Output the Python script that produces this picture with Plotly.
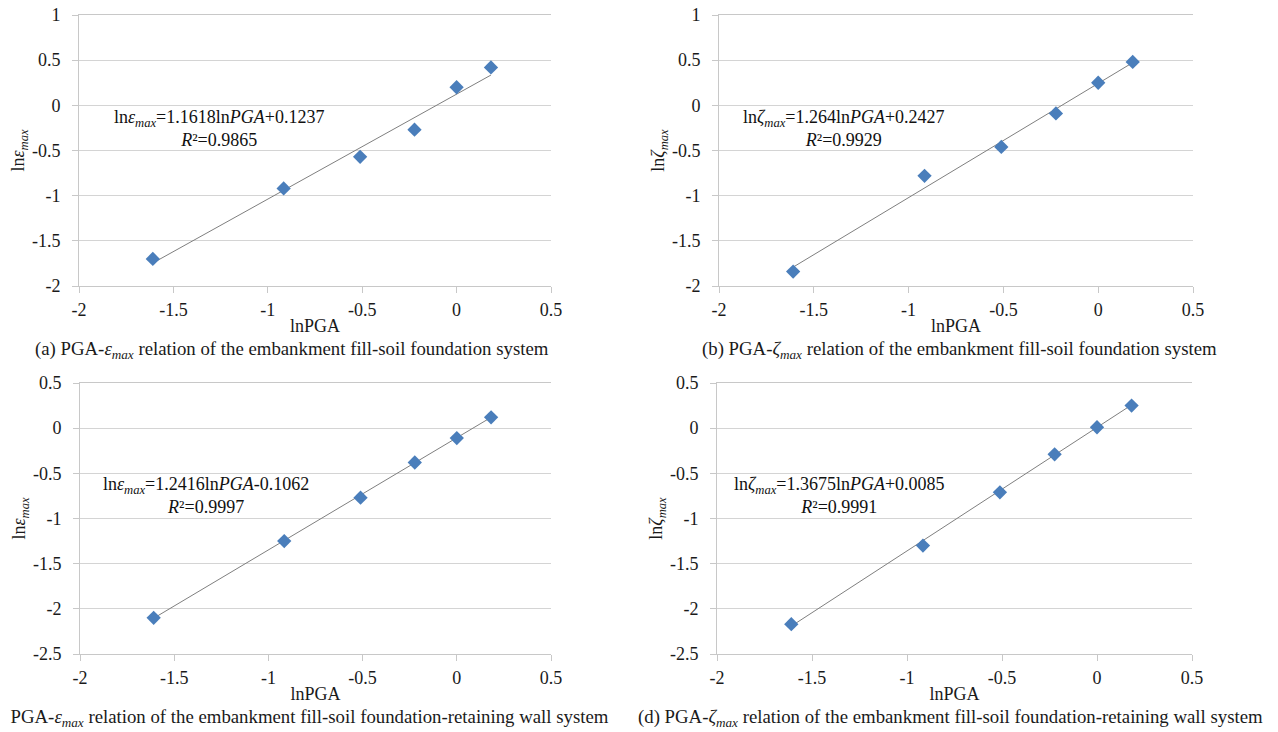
import numpy as np
import plotly.graph_objects as go

# ---- data ----
ln_pga = [-1.609, -0.916, -0.511, -0.223, 0.0, 0.182]
ln_eps_a = [-1.70, -0.92, -0.57, -0.27, 0.20, 0.42]
ln_zeta_b = [-1.84, -0.78, -0.46, -0.09, 0.25, 0.48]
ln_eps_c = [-2.10, -1.25, -0.77, -0.38, -0.11, 0.12]
ln_zeta_d = [-2.17, -1.30, -0.71, -0.29, 0.01, 0.25]
slopes = [1.1618, 1.264, 1.2416, 1.3675]
intercepts = [0.1237, 0.2427, -0.1062, 0.0085]
r2_values = ["0.9865", "0.9929", "0.9997", "0.9991"]
x_ticks = [-2, -1.5, -1, -0.5, 0, 0.5]
y_ticks_top = [1, 0.5, 0, -0.5, -1, -1.5, -2]
y_ticks_bottom = [0.5, 0, -0.5, -1, -1.5, -2, -2.5]

W, H, OFF = 1278, 732, 8  # page body margin compensation


def px(x):
    return (x - OFF) / W


def py(y):
    return 1 - (y - OFF) / H


EPS = "ln<i>ε</i><sub><i>max</i></sub>"
ZETA = "ln<i>ζ</i><sub><i>max</i></sub>"
panels = [
    dict(y=ln_eps_a, sym=EPS, yr=[-2, 1], yt=y_ticks_top,
         dom_x=[px(79), px(551)], dom_y=[py(286), py(15)],
         ann=(-1.26, -0.255),
         cap="(a) PGA-<i>ε</i><sub><i>max</i></sub> relation of the embankment fill-soil foundation system",
         cap_x=(292, "center"), cap_y=350),
    dict(y=ln_zeta_b, sym=ZETA, yr=[-2, 1], yt=y_ticks_top,
         dom_x=[px(719), px(1193)], dom_y=[py(286), py(15)],
         ann=(-1.34, -0.255),
         cap="(b) PGA-<i>ζ</i><sub><i>max</i></sub> relation of the embankment fill-soil foundation system",
         cap_x=(959, "center"), cap_y=350),
    dict(y=ln_eps_c, sym=EPS, yr=[-2.5, 0.5], yt=y_ticks_bottom,
         dom_x=[px(80), px(551)], dom_y=[py(654), py(383)],
         ann=(-1.33, -0.745),
         cap="(c) PGA-<i>ε</i><sub><i>max</i></sub> relation of the embankment fill-soil foundation-retaining wall system",
         cap_x=(611, "right"), cap_y=718),
    dict(y=ln_zeta_d, sym=ZETA, yr=[-2.5, 0.5], yt=y_ticks_bottom,
         dom_x=[px(717), px(1192)], dom_y=[py(654), py(383)],
         ann=(-1.355, -0.745),
         cap="(d) PGA-<i>ζ</i><sub><i>max</i></sub> relation of the embankment fill-soil foundation-retaining wall system",
         cap_x=(636, "left"), cap_y=718),
]

FONT = "Liberation Serif"
fig = go.Figure()
annotations = []
for i, p in enumerate(panels):
    n = "" if i == 0 else str(i + 1)
    xa, ya = "x" + n, "y" + n
    # trend line from regression equation
    xl = np.array([min(ln_pga), max(ln_pga)])
    yl = slopes[i] * xl + intercepts[i]
    fig.add_trace(go.Scatter(x=xl, y=yl, mode="lines", xaxis=xa, yaxis=ya,
                             line=dict(color="#7f7f7f", width=1), showlegend=False,
                             hoverinfo="skip"))
    fig.add_trace(go.Scatter(x=ln_pga, y=p["y"], mode="markers", xaxis=xa, yaxis=ya,
                             marker=dict(symbol="diamond", size=11, color="#4a7ebb",
                                         line=dict(width=0)),
                             showlegend=False))
    axcommon = dict(showline=True, linecolor="#c8c8c8", linewidth=1, ticks="outside",
                    ticklen=6, tickcolor="#c8c8c8", zeroline=False, automargin=False,
                    ticklabeloverflow="allow",
                    tickfont=dict(family=FONT, size=18, color="#1a1a1a"))
    fig.layout["xaxis" + n] = dict(
        domain=p["dom_x"], range=[-2, 0.5], tickvals=x_ticks,
        ticktext=[f"{v:g}" for v in x_ticks], showgrid=False, anchor=ya,
        ticklabelstandoff=1, mirror=True,
        title=dict(text="lnPGA", font=dict(family=FONT, size=18, color="#1a1a1a"),
                   standoff=0),
        **axcommon)
    fig.layout["yaxis" + n] = dict(
        domain=p["dom_y"], range=p["yr"], tickvals=p["yt"],
        ticktext=[f"{v:g}" for v in p["yt"]], showgrid=True, gridcolor="#d4d4d4",
        gridwidth=1, anchor=xa, ticklabelstandoff=8,
        title=dict(text=p["sym"], font=dict(family=FONT, size=18, color="#1a1a1a"),
                   standoff=2),
        **axcommon)
    sign = "+" if intercepts[i] >= 0 else "-"
    eq = (p["sym"] + f"={slopes[i]:g}ln<i>PGA</i>{sign}{abs(intercepts[i]):.4f}"
          + f"<br><i>R</i>²={r2_values[i]}")
    annotations.append(dict(x=p["ann"][0], y=p["ann"][1], xref=xa, yref=ya,
                            text=eq, showarrow=False, align="center",
                            font=dict(family=FONT, size=18, color="#111111")))
    annotations.append(dict(x=px(p["cap_x"][0]), y=py(p["cap_y"]),
                            xref="paper", yref="paper", xanchor=p["cap_x"][1],
                            yanchor="middle", text=p["cap"], showarrow=False,
                            font=dict(family=FONT, size=18.8, color="#1a1a1a")))

fig.update_layout(width=W, height=H, margin=dict(l=0, r=0, t=0, b=0),
                  paper_bgcolor="white", plot_bgcolor="white",
                  annotations=annotations, font=dict(family=FONT))
fig.write_html("out.html")
